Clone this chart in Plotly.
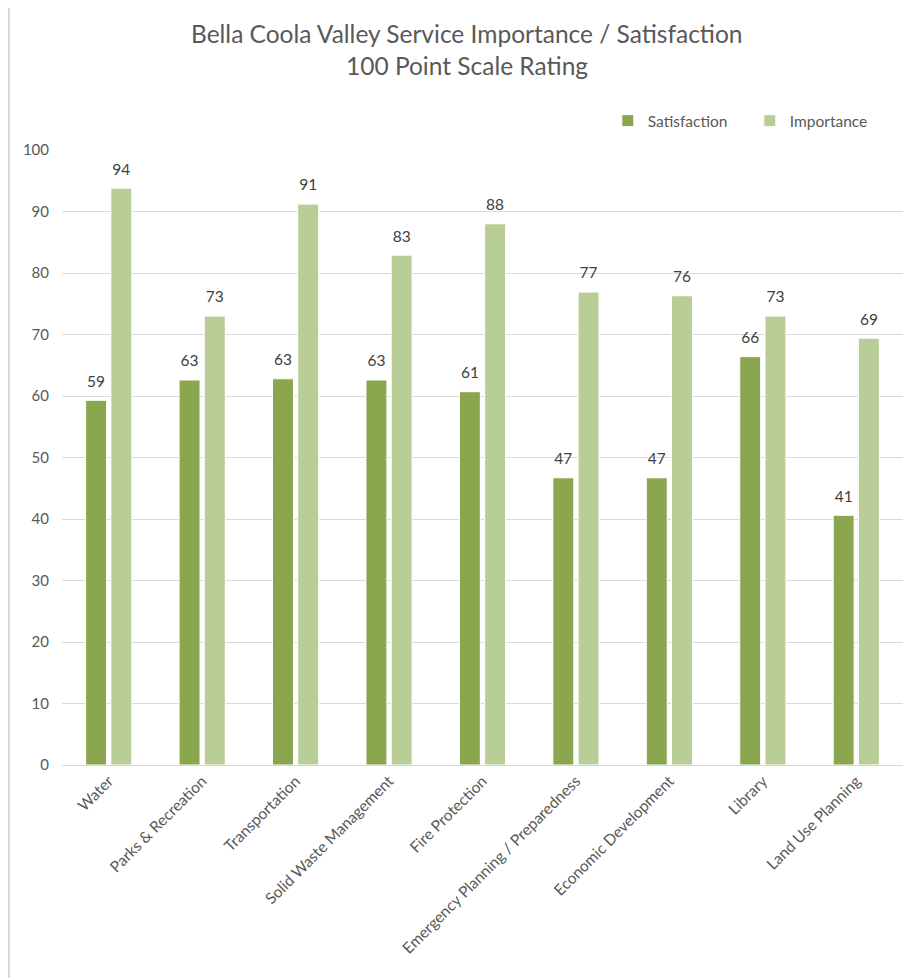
import plotly.graph_objects as go

categories = ["Water", "Parks & Recreation", "Transportation", "Solid Waste Management",
              "Fire Protection", "Emergency Planning / Preparedness", "Economic Development",
              "Library", "Land Use Planning"]
satisfaction = [59.3, 62.6, 62.8, 62.6, 60.7, 46.7, 46.7, 66.4, 40.6]
importance = [93.8, 73.0, 91.2, 82.9, 88.0, 76.9, 76.3, 73.0, 69.4]
y_ticks = [0, 10, 20, 30, 40, 50, 60, 70, 80, 90, 100]

FONT = "Lato"
GRAY = "#595959"
GAP = 0.46

fig = go.Figure()
for name, vals, color, grp in [("Satisfaction", satisfaction, "#8AA64F", "s"),
                               ("Importance", importance, "#B8CE96", "i")]:
    fig.add_trace(go.Bar(
        name=name, x=categories, y=vals, offsetgroup=grp,
        marker=dict(color=color, line=dict(color="white", width=1)),
    ))
for vals, grp in [(satisfaction, "s"), (importance, "i")]:
    fig.add_trace(go.Scatter(
        x=categories, y=vals, offsetgroup=grp, mode="markers+text",
        marker=dict(size=14, opacity=0), showlegend=False, hoverinfo="skip",
        text=[f"{v:.0f}" for v in vals], textposition="top center",
        textfont=dict(family=FONT, size=15.5, color="#404040"), cliponaxis=False,
    ))

fig.update_layout(
    width=906, height=970,
    margin=dict(l=54, r=11, t=142, b=213, autoexpand=False),
    paper_bgcolor="white", plot_bgcolor="white",
    font=dict(family=FONT, color=GRAY, size=13),
    barmode="group", bargap=GAP, bargroupgap=0.17,
    scattermode="group", scattergap=GAP,
    showlegend=True,
    legend=dict(orientation="h", x=0.649, y=1.047, xanchor="left", yanchor="middle",
                font=dict(family=FONT, size=15.5, color=GRAY), entrywidth=97,
                itemclick=False, bgcolor="rgba(0,0,0,0)"),
    xaxis=dict(tickangle=-45, showgrid=False, showline=True, linecolor="#D9D9D9",
               linewidth=1, ticks="", tickfont=dict(family=FONT, size=15.5, color=GRAY),
               automargin=False),
    yaxis=dict(range=[0, 100], tickvals=y_ticks, showgrid=True, gridcolor="#D9D9D9",
               gridwidth=1, zeroline=False, showline=False, ticks="",
               tickfont=dict(family=FONT, size=15, color=GRAY), ticklabelstandoff=12,
               automargin=False),
    annotations=[
        dict(text="Bella Coola Valley Service Importance / Satisfaction", xref="paper", yref="paper",
             x=0.481, y=1.189, showarrow=False, xanchor="center", yanchor="middle",
             font=dict(family=FONT, size=24.5, color=GRAY)),
        dict(text="100 Point Scale Rating", xref="paper", yref="paper",
             x=0.481, y=1.137, showarrow=False, xanchor="center", yanchor="middle",
             font=dict(family=FONT, size=24.5, color=GRAY)),
    ],
    shapes=[dict(type="rect", xref="paper", yref="paper", x0=-0.0630, x1=1.03,
                 y0=-0.36, y1=1.2375, line=dict(color="#D9D9D9", width=2),
                 fillcolor="rgba(0,0,0,0)", layer="below")],
)

fig.write_html("out.html")
